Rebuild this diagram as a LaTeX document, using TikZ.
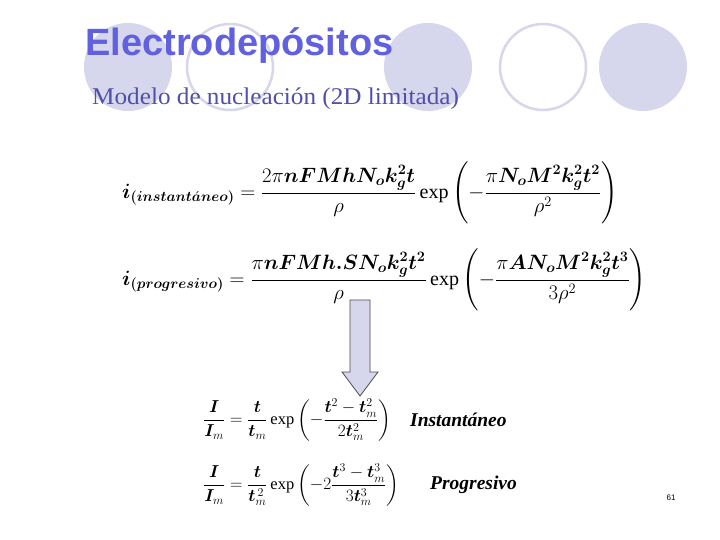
\documentclass[tikz,border=0pt]{standalone}
\usepackage{amsmath,bm}
\usepackage{fontspec}
\setmainfont{Liberation Serif}
\newfontfamily\titlefont{Liberation Sans}
\definecolor{circ}{RGB}{214,214,236}
\definecolor{ttl}{RGB}{96,96,224}
\definecolor{subt}{RGB}{80,80,170}
\begin{document}
\begin{tikzpicture}[x=1pt,y=-1pt,
  circo/.style={draw=circ,line width=2.5pt},
  eq/.style={inner sep=0pt,anchor=west,font=\fontsize{20}{24}\selectfont}]
\useasboundingbox (0,0) rectangle (720,540);
\fill[white] (0,0) rectangle (720,540);
\fill[circ] (128,67) ellipse (44 and 44);
\draw[circo] (230,67) ellipse (43 and 43);
\fill[circ] (428,67) ellipse (44 and 44);
\draw[circo] (543,67) ellipse (43 and 43);
\fill[circ] (643,67) ellipse (44 and 44);
\node[anchor=west,inner sep=0pt,text=ttl,font=\titlefont\bfseries\fontsize{38}{42}\selectfont] (title) at (85,46) {Electrodepósitos};
\node[anchor=west,inner sep=0pt,text=subt,font=\fontsize{24}{26}\selectfont,xscale=1.05] (sub) at (92,99) {Modelo de nucleación (2D limitada)};
\node[eq] (e1) at (122,193) {$\displaystyle \bm{i}_{\bm{(instant\acute{a}neo)}}=\frac{2\pi\bm{nFMhN_ok_g^2t}}{\rho}\exp\left(-\frac{\pi\bm{N_oM^2k_g^2t^2}}{\rho^2}\right)$};
\node[eq] (e2) at (122,280) {$\displaystyle \bm{i}_{\bm{(progresivo)}}=\frac{\pi\bm{nFMh.SN_ok_g^2t^2}}{\rho}\exp\left(-\frac{\pi\bm{AN_oM^2k_g^2t^3}}{3\rho^2}\right)$};
\draw[draw=black!70,fill=circ,line width=0.8pt] (350,300) -- (370,300) -- (370,372) -- (378,372) -- (360,396) -- (342,372) -- (350,372) -- cycle;
\node[eq,font=\fontsize{16.5}{20}\selectfont] (e3) at (203,420) {$\displaystyle \frac{\bm I}{\bm I_m}=\frac{\bm t}{\bm t_m}\exp\left(-\frac{\bm t^2-\bm t_m^2}{2\bm t_m^2}\right)$};
\node[eq,font=\fontsize{16.5}{20}\selectfont] (e4) at (203,485) {$\displaystyle \frac{\bm I}{\bm I_m}=\frac{\bm t}{\bm t_m^{\,2}}\exp\left(-2\frac{\bm t^3-\bm t_m^3}{3\bm t_m^3}\right)$};
\node[anchor=west,inner sep=0pt,font=\bfseries\itshape\fontsize{19.5}{22}\selectfont] (l3) at (410,420) {Instantáneo};
\node[anchor=west,inner sep=0pt,font=\bfseries\itshape\fontsize{19.5}{22}\selectfont] (l4) at (430,485) {Progresivo};
\node[inner sep=0pt,font=\titlefont\fontsize{8}{9}\selectfont] (pg) at (671,498) {61};
\end{tikzpicture}
\end{document}
